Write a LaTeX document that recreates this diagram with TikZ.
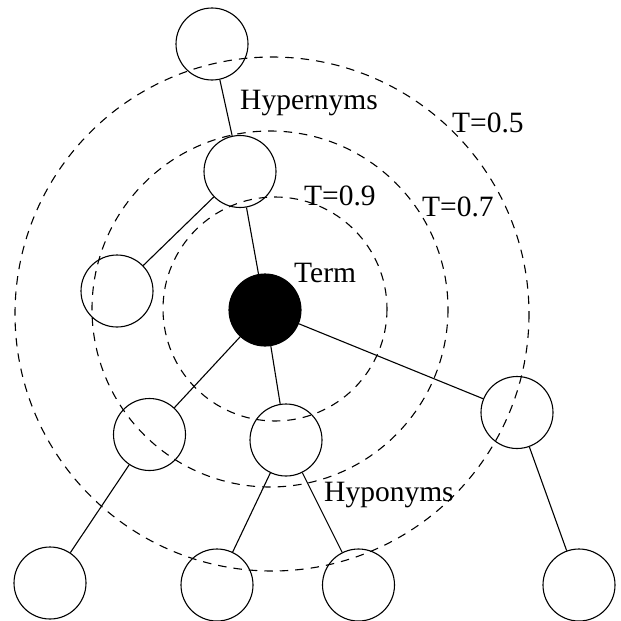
\documentclass[tikz,border=0pt]{standalone}
\usepackage{fontspec}
\setmainfont{Liberation Serif}
\newfontfamily\treefont{Liberation Serif}
\begin{document}
\begin{tikzpicture}[x=1pt,y=-1pt,
  vertex/.style={circle,draw,inner sep=0pt,minimum size=72pt,line width=1.1pt},
  termvertex/.style={vertex,fill=black},
  link/.style={line width=1.1pt},
  level/.style={dashed,dash pattern=on 8.5pt off 7pt,line width=1.1pt},
  tag/.style={anchor=base west,inner sep=0pt},
  every node/.style={font=\treefont\fontsize{29.5}{32}\selectfont}]
\useasboundingbox (0,0) rectangle (621,621);
% threshold rings
\foreach \cx/\cy/\r in {275/309/112,270/309/178,272/314/257}{
  \draw[level] (\cx,\cy) circle[radius=\r];
}
% tree
\node[vertex] (root) at (212,44) {};
\node[vertex] (hyper) at (240,171.5) {};
\node[vertex] (sib) at (117,291) {};
\node[termvertex] (term) at (265,310) {};
\node[vertex] (hypoa) at (149.5,434.5) {};
\node[vertex] (hypob) at (286,440) {};
\node[vertex] (hypoc) at (517,412.5) {};
\node[vertex] (leafa) at (50,583) {};
\node[vertex] (leafb) at (217,585) {};
\node[vertex] (leafc) at (358.5,585) {};
\node[vertex] (leafd) at (579,585) {};
\draw[link] (root) -- (hyper);
\draw[link] (hyper) -- (sib);
\draw[link] (hyper) -- (term);
\draw[link] (term) -- (hypoa);
\draw[link] (term) -- (hypob);
\draw[link] (term) -- (hypoc);
\draw[link] (hypoa) -- (leafa);
\draw[link] (hypob) -- (leafb);
\draw[link] (hypob) -- (leafc);
\draw[link] (hypoc) -- (leafd);
% labels
\node[tag] (hypertext) at (240,109) {Hypernyms};
\node[tag] (tfive) at (452,132) {T=0.5};
\node[tag] (tseven) at (422,216) {T=0.7};
\node[tag] (tnine) at (304,205) {T=0.9};
\node[tag] (termtext) at (294,282) {Term};
\node[tag] (hypotext) at (324,501) {Hyponyms};
\end{tikzpicture}
\end{document}
